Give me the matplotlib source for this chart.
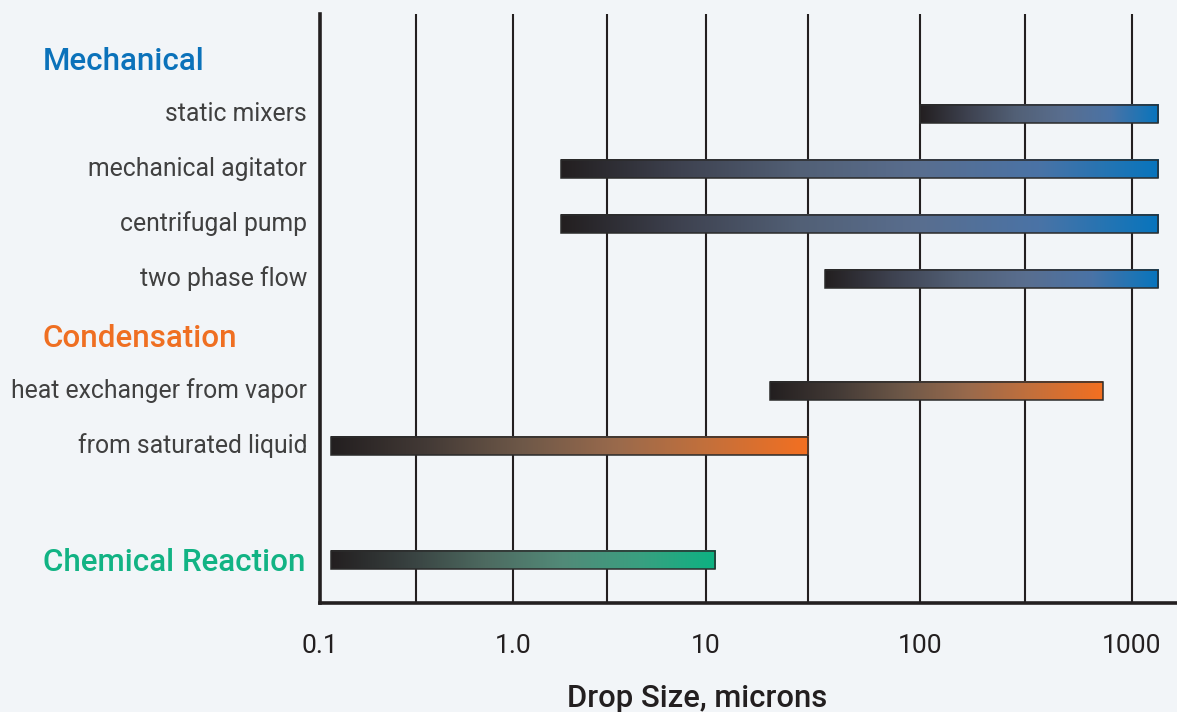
"""Drop size ranges by formation mechanism (gradient range bars on a log-like axis)."""

import matplotlib.pyplot as plt
import numpy as np
from matplotlib.colors import LinearSegmentedColormap
from matplotlib.patches import Rectangle
from matplotlib.transforms import blended_transform_factory

plt.rcParams["font.family"] = ["Roboto", "DejaVu Sans"]

# groups and their rows (label, low, high) in microns
groups = ["Mechanical", "Condensation", "Chemical Reaction"]
group_colors = ["#0b72ba", "#ef6f22", "#12b384"]
# gradient stops from dark to group colour (sampled from the artwork)
group_ramps = [
    ["#231f20", "#3e4250", "#526076", "#596e8f", "#4a73a6", "#0875bd"],
    ["#231f20", "#433a36", "#6e5848", "#9a6a4c", "#c6703a", "#f36f21"],
    ["#231f20", "#384140", "#4d6a60", "#528a78", "#3a9f80", "#0db282"],
]

mech_labels = ["static mixers", "mechanical agitator", "centrifugal pump", "two phase flow"]
mech_low = [100, 1.75, 1.75, 36]
mech_high = [1330, 1330, 1330, 1330]

cond_labels = ["heat exchanger from vapor", "from saturated liquid"]
cond_low = [20, 0.113]
cond_high = [720, 30]

chem_low = [0.113]
chem_high = [11]

tick_values = [0.1, 1.0, 10, 100, 1000]
tick_labels = ["0.1", "1.0", "10", "100", "1000"]
grid_values = [0.3, 1, 3, 10, 30, 100, 300, 1000]

BG = "#f2f5f8"
INK = "#231f20"

# the source artwork spaces decades unevenly; reproduce it with a piecewise log scale
KNOT_LOG = np.log10([0.1, 0.3, 1, 3, 10, 30, 100, 300, 1000, 10000])
KNOT_POS = np.array([0, 96, 193, 287, 386, 488, 600, 705, 812, 1024], dtype=float)


def fwd(x):
    x = np.clip(np.asarray(x, dtype=float), 1e-6, None)
    return np.interp(np.log10(x), KNOT_LOG, KNOT_POS)


def inv(p):
    return 10 ** np.interp(np.asarray(p, dtype=float), KNOT_POS, KNOT_LOG)


def gradient_bar(ax, y, lo, hi, ramp, h=0.33):
    cmap = LinearSegmentedColormap.from_list("g", ramp)
    grad = np.linspace(0, 1, 256).reshape(1, -1)
    # place the image in scaled (linear) coords so the gradient is even on screen
    tr = ax.transLimits + ax.transAxes
    ax.imshow(grad, cmap=cmap, aspect="auto", interpolation="bilinear",
              extent=(float(fwd(lo)), float(fwd(hi)), y + h / 2, y - h / 2),
              transform=tr, zorder=3)
    ax.add_patch(Rectangle((lo, y - h / 2), hi - lo, h, fill=False,
                           edgecolor="#2b2b2b", lw=1.1, zorder=4))


def main():
    fig = plt.figure(figsize=(11.77, 7.12), dpi=100, facecolor=BG)
    ax = fig.add_axes([320 / 1177, 109 / 712, 857 / 1177, 589 / 712])
    ax.set_facecolor(BG)
    ax.set_xscale("function", functions=(fwd, inv))

    # row layout: headings and items, ~55 px apart
    rows = []  # (y, label, lo, hi, group index)
    y = 0
    heading_y = {0: y}
    for lab, lo, hi in zip(mech_labels, mech_low, mech_high):
        y += 1
        rows.append((y, lab, lo, hi, 0))
    y += 1.04
    heading_y[1] = y
    for lab, lo, hi in zip(cond_labels, cond_low, cond_high):
        y += 1
        rows.append((y, lab, lo, hi, 1))
    y += 2.08
    heading_y[2] = y
    for lo, hi in zip(chem_low, chem_high):
        rows.append((y, None, lo, hi, 2))

    for gx in grid_values:
        ax.axvline(gx, color=INK, lw=1.5, zorder=1)

    lab_tr = blended_transform_factory(fig.transFigure, ax.transData)
    for yy, lab, lo, hi, g in rows:
        gradient_bar(ax, yy, lo, hi, group_ramps[g])
        if lab:
            ax.text(307 / 1177, yy, lab, transform=lab_tr, ha="right", va="center",
                    fontsize=17.8, color="#404040")
    for g, name in enumerate(groups):
        ax.text(43 / 1177, heading_y[g] + 0.04, name, transform=lab_tr, ha="left",
                va="center", fontsize=22.6, fontweight="medium", color=group_colors[g])

    ax.set_xlim(0.1, inv(fwd(1000) + 45))
    ax.set_ylim(9.9, -0.82)
    ax.set_yticks([])
    ax.set_xticks(tick_values)
    ax.set_xticklabels(tick_labels)
    ax.minorticks_off()
    ax.tick_params(axis="x", length=0, pad=22, labelsize=19, labelcolor=INK)
    ax.set_xlabel("Drop Size, microns", fontsize=22.3, fontweight="medium",
                  color=INK, labelpad=16)
    ax.xaxis.set_label_coords((697 - 320) / 857, -0.138)

    for side in ("top", "right"):
        ax.spines[side].set_visible(False)
    for side in ("left", "bottom"):
        ax.spines[side].set_linewidth(2.6)
        ax.spines[side].set_color(INK)

    fig.savefig("out.png", dpi=100, facecolor=BG)


if __name__ == "__main__":
    main()
